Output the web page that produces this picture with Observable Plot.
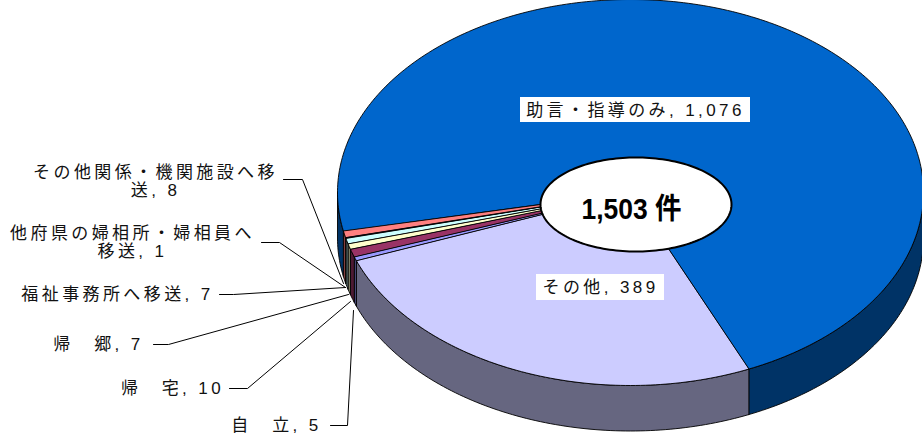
<!DOCTYPE html>
<html>
<head>
<meta charset="utf-8">
<style>
html,body{margin:0;padding:0;background:#fff}
svg{display:block}
.lbl text{letter-spacing:3.4px}
</style>
<script src="https://cdn.jsdelivr.net/npm/d3@7"></script>
<script src="https://cdn.jsdelivr.net/npm/@observablehq/plot@0.6"></script>
</head>
<body>
<div id="chart"></div>
<script>
// --- data ---
const categories = ["助言・指導のみ","その他","自　立","帰　宅","帰　郷","福祉事務所へ移送","他府県の婦相所・婦相員へ移送","その他関係・機関施設へ移送"];
const values = [1076,389,5,10,7,7,1,8];
const topColors = ["#0066CC","#CCCCFF","#9999FF","#993366","#FFFFCC","#CCFFFF","#660066","#FF8080"];
const sideColors = ["#003366","#666680","#4D4D80","#4D1A33","#808066","#668080","#330033","#804040"];
const totalLabel = "1,503 件";

// --- layout (pixels) ---
const W = 922, H = 439;
const pie = {cx:630, cy:192, rx:293, ry:193, depth:45.5, start:258.5};
const labelText = [
  "助言・指導のみ, 1,076","その他, 389","自　立, 5","帰　宅, 10","帰　郷, 7",
  "福祉事務所へ移送, 7","他府県の婦相所・婦相員へ\n移送, 1","その他関係・機関施設へ移\n送, 8"];
const labelX = [635,600,276,172,98,117,132,155];
const labelY = [110,287,425,388,344,294,242,181];
const boxes = [{x1:520,x2:750,y1:97,y2:122},{x1:536,x2:664,y1:274,y2:300}];
const leaders = [
  null,null,
  [[330,425],[347,425],[353,310]],
  [[229,388],[247,388],[350,301]],
  [[153,344],[168,344],[348,294]],
  [[219,294],[233,294],[345,287]],
  [[261,242],[279,242],[345,287]],
  [[283,179],[302,179],[343,283]]
];
const badge = {cx:635.5, cy:204, rx:95.5, ry:47};

// --- geometry derived from the values ---
const total = d3.sum(values);
const pt = (deg, dy=0) => {
  const t = deg*Math.PI/180;
  return {x: pie.cx+pie.rx*Math.sin(t), y: pie.cy-pie.ry*Math.cos(t)+dy};
};
const arc = (a,b,dy=0) => {
  const n = Math.max(2,Math.ceil(Math.abs(b-a)));
  return d3.range(n+1).map(i => pt(a+(b-a)*i/n,dy));
};
const tops = [], sides = [];
let a = pie.start;
values.forEach((v,i) => {
  const b = a+v/total*360;
  arc(a,b).concat([{x:pie.cx,y:pie.cy}]).forEach(p => tops.push({...p,k:i,c:topColors[i]}));
  // the wall is visible where the rim faces the viewer: 90..270 degrees, modulo 360
  [[a,b],[a+360,b+360],[a-360,b-360]].forEach(([s,e],j) => {
    const lo = Math.max(s,90), hi = Math.min(e,270);
    if (hi > lo) arc(lo,hi).concat(arc(hi,lo,pie.depth)).forEach(p => sides.push({...p,k:i+"-"+j,c:sideColors[i]}));
  });
  a = b;
});
const leaderPts = leaders.flatMap((l,i) => l ? l.map(([x,y]) => ({x,y,k:i})) : []);
const badgePts = d3.range(0,360,2).map(d => ({
  x: badge.cx+badge.rx*Math.cos(d*Math.PI/180),
  y: badge.cy+badge.ry*Math.sin(d*Math.PI/180)}));
const labelRows = labelText.map((t,i) => ({t,x:labelX[i],y:labelY[i],name:categories[i],v:values[i]}));
const font = "'Liberation Sans','Noto Sans CJK JP',sans-serif";

const chart = Plot.plot({
  width:W, height:H, margin:0,
  x:{domain:[0,W],range:[0,W],axis:null},
  y:{domain:[0,H],range:[0,H],axis:null},
  color:{type:"identity"},
  marks:[
    Plot.line(sides,{x:"x",y:"y",z:"k",fill:"c",stroke:"#000",strokeWidth:0.9,curve:"linear-closed"}),
    Plot.line(tops,{x:"x",y:"y",z:"k",fill:"c",stroke:"#000",strokeWidth:0.9,curve:"linear-closed"}),
    Plot.line(leaderPts,{x:"x",y:"y",z:"k",stroke:"#000",strokeWidth:1}),
    Plot.rectY(boxes,{x1:"x1",x2:"x2",y1:"y1",y2:"y2",fill:"#fff",inset:0}),
    Plot.text(labelRows,{x:"x",y:"y",text:"t",fill:"#111",fontSize:17,fontFamily:font,lineHeight:1.02,textAnchor:"middle",className:"lbl"}),
    Plot.line(badgePts,{x:"x",y:"y",fill:"#fff",stroke:"#000",strokeWidth:2,curve:"linear-closed"}),
    Plot.text([totalLabel],{x:[631],y:[209],text:d=>d,fill:"#000",fontSize:29,fontWeight:"bold",fontFamily:font,className:"total"})
  ]
});
document.getElementById("chart").append(chart);
d3.select(chart).selectAll(".total text").attr("textLength",100).attr("lengthAdjust","spacingAndGlyphs");
</script>
</body>
</html>
